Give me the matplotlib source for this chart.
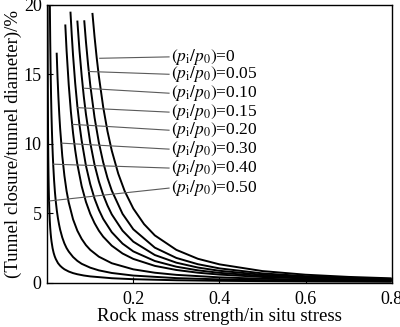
import matplotlib
matplotlib.use("Agg")
import matplotlib.pyplot as plt

plt.rcParams['font.family'] = ['Liberation Serif', 'DejaVu Serif']
plt.rcParams['mathtext.fontset'] = 'stix'

ratios = ["0", "0.05", "0.10", "0.15", "0.20", "0.30", "0.40", "0.50"]

s_p000 = [0.105, 0.11, 0.115, 0.12, 0.13, 0.14, 0.15, 0.165, 0.18, 0.2, 0.225, 0.25, 0.3, 0.35, 0.4, 0.5, 0.6, 0.7, 0.8]
e_p000 = [19.41, 17.69, 16.18, 14.86, 12.66, 10.91, 9.51, 7.86, 6.60, 5.35, 4.23, 3.42, 2.38, 1.74, 1.34, 0.856, 0.595, 0.437, 0.334]

s_p005 = [0.086, 0.09, 0.095, 0.1, 0.11, 0.12, 0.13, 0.14, 0.15, 0.175, 0.2, 0.25, 0.3, 0.35, 0.4, 0.5, 0.6, 0.7, 0.8]
e_p005 = [18.88, 17.34, 15.68, 14.23, 11.89, 10.09, 8.68, 7.55, 6.64, 4.97, 3.86, 2.54, 1.80, 1.35, 1.05, 0.690, 0.490, 0.367, 0.285]

s_p010 = [0.07, 0.075, 0.08, 0.085, 0.09, 0.1, 0.11, 0.12, 0.13, 0.14, 0.15, 0.175, 0.2, 0.25, 0.3, 0.35, 0.4, 0.5, 0.6, 0.7, 0.8]
e_p010 = [18.86, 16.70, 14.93, 13.40, 12.13, 10.08, 8.50, 7.30, 6.34, 5.57, 4.93, 3.76, 2.97, 2.01, 1.46, 1.11, 0.877, 0.593, 0.430, 0.328, 0.259]

s_p015 = [0.054, 0.057, 0.06, 0.065, 0.07, 0.075, 0.08, 0.09, 0.1, 0.11, 0.12, 0.13, 0.15, 0.175, 0.2, 0.25, 0.3, 0.35, 0.4, 0.5, 0.6, 0.7, 0.8]
e_p015 = [19.50, 17.84, 16.38, 14.37, 12.72, 11.37, 10.24, 8.43, 7.10, 6.06, 5.26, 4.61, 3.65, 2.83, 2.27, 1.58, 1.17, 0.909, 0.730, 0.507, 0.376, 0.292, 0.234]

s_p020 = [0.042, 0.045, 0.05, 0.055, 0.06, 0.065, 0.07, 0.08, 0.09, 0.1, 0.11, 0.12, 0.13, 0.15, 0.175, 0.2, 0.25, 0.3, 0.35, 0.4, 0.5, 0.6, 0.7, 0.8]
e_p020 = [18.58, 16.72, 14.25, 12.31, 10.79, 9.55, 8.54, 6.97, 5.83, 4.97, 4.30, 3.76, 3.33, 2.68, 2.12, 1.73, 1.23, 0.935, 0.740, 0.604, 0.430, 0.326, 0.258, 0.211]

s_p030 = [0.022, 0.024, 0.026, 0.028, 0.03, 0.035, 0.04, 0.045, 0.05, 0.06, 0.07, 0.08, 0.09, 0.1, 0.12, 0.15, 0.2, 0.25, 0.3, 0.4, 0.5, 0.6, 0.7, 0.8]
e_p030 = [16.55, 14.80, 13.36, 12.15, 11.13, 9.13, 7.70, 6.61, 5.79, 4.58, 3.76, 3.17, 2.72, 2.38, 1.89, 1.42, 0.981, 0.737, 0.584, 0.404, 0.304, 0.240, 0.197, 0.166]

s_p040 = [0.006, 0.007, 0.008, 0.009, 0.01, 0.011, 0.012, 0.013, 0.014, 0.016, 0.018, 0.02, 0.0225, 0.025, 0.0275, 0.03, 0.035, 0.04, 0.045, 0.05, 0.06, 0.07, 0.08, 0.1, 0.12, 0.15, 0.2, 0.3, 0.4, 0.5, 0.6, 0.7, 0.8]
e_p040 = [20.46, 17.42, 15.16, 13.42, 12.02, 10.90, 9.95, 9.16, 8.48, 7.37, 6.52, 5.84, 5.17, 4.64, 4.21, 3.84, 3.27, 2.84, 2.51, 2.26, 1.87, 1.59, 1.38, 1.10, 0.907, 0.719, 0.533, 0.350, 0.259, 0.206, 0.170, 0.145, 0.126]

s_p050 = [0.0009, 0.001, 0.0012, 0.0015, 0.002, 0.0025, 0.003, 0.0035, 0.004, 0.005, 0.006, 0.007, 0.008, 0.009, 0.01, 0.0125, 0.015, 0.0175, 0.02, 0.025, 0.03, 0.035, 0.04, 0.05, 0.06, 0.07, 0.085, 0.1, 0.15, 0.2, 0.3, 0.4, 0.5, 0.6, 0.7, 0.8]
e_p050 = [20.5, 18.84, 16.28, 13.62, 10.82, 9.05, 7.82, 6.92, 6.21, 5.20, 4.49, 3.96, 3.57, 3.25, 2.99, 2.50, 2.16, 1.91, 1.72, 1.43, 1.24, 1.10, 0.985, 0.824, 0.710, 0.629, 0.538, 0.473, 0.342, 0.272, 0.196, 0.156, 0.131, 0.113, 0.0998, 0.0896]

curves_s = [s_p000, s_p005, s_p010, s_p015, s_p020, s_p030, s_p040, s_p050]
curves_e = [e_p000, e_p005, e_p010, e_p015, e_p020, e_p030, e_p040, e_p050]

# leader line endpoints on curves (x, y) and label anchor positions
leader_x = [0.122, 0.0963, 0.0848, 0.0709, 0.0594, 0.034, 0.0132, 0.0062]
leader_y = [16.15, 15.2, 14.0, 12.6, 11.4, 10.05, 8.54, 5.9]
label_x = 0.283
label_y = [16.25, 15.0, 13.64, 12.28, 10.98, 9.62, 8.26, 6.82]

fig = plt.figure(figsize=(4.0, 3.27), dpi=100)
ax = fig.add_axes([0.118, 0.1346, 0.861, 0.851])

for s, e in zip(curves_s, curves_e):
    ax.plot(s, e, color='black', lw=1.4, solid_capstyle='butt', solid_joinstyle='round')

for lx, ly, ty, r in zip(leader_x, leader_y, label_y, ratios):
    ax.plot([lx, label_x], [ly, ty], color='#5a5a5a', lw=0.8)
    ax.text(label_x + 0.004, ty, r"$(p_{\rm i}/p_0)$=" + r, fontsize=12.5,
            va='center', ha='left')

ax.set_xlim(0, 0.8)
ax.set_ylim(0, 20)
ax.set_xticks([0.2, 0.4, 0.6, 0.8])
ax.set_xticklabels(["0.2", "0.4", "0.6", "0.8"])
ax.set_yticks([0, 5, 10, 15, 20])
ax.set_yticklabels(["0", "5", "10", "15", "20"])
ax.tick_params(direction='in', length=4, width=0.8, labelsize=13)
ax.tick_params(axis='x', pad=6)
ax.tick_params(axis='y', pad=4)
for sp in ax.spines.values():
    sp.set_linewidth(1.0)
ax.set_xlabel("Rock mass strength/in situ stress", fontsize=13.5, labelpad=0)
ax.set_ylabel("(Tunnel closure/tunnel diameter)/%", fontsize=13.5, labelpad=1)

fig.savefig("out.png", dpi=100)
